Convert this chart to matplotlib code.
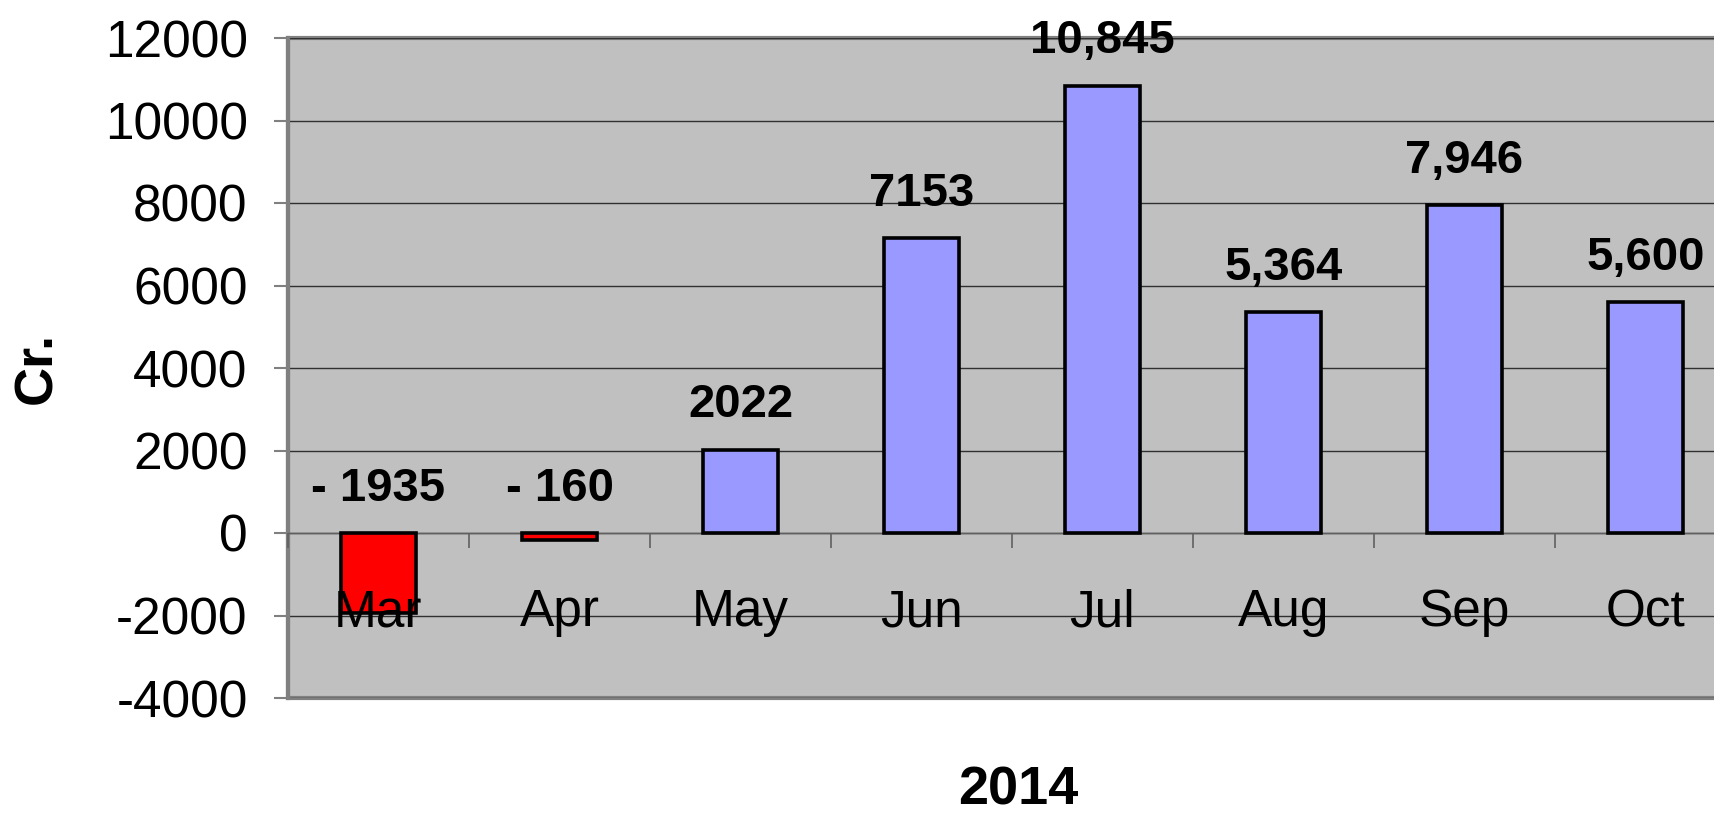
import matplotlib
matplotlib.use("Agg")
import matplotlib.pyplot as plt
import numpy as np

# monthly values, 2014 (Cr.)
months = ["Mar", "Apr", "May", "Jun", "Jul", "Aug", "Sep", "Oct"]
values = [-1935, -160, 2022, 7153, 10845, 5364, 7946, 5600]
value_labels = ["- 1935", "- 160", "2022", "7153", "10,845", "5,364", "7,946", "5,600"]
yticks = [-4000, -2000, 0, 2000, 4000, 6000, 8000, 10000, 12000]
ytick_labels = ["-4000", "-2000", "0", "2000", "4000", "6000", "8000", "10000", "12000"]

plt.rcParams["font.family"] = ["Liberation Sans", "DejaVu Sans"]
plt.rcParams["axes.unicode_minus"] = False

fig = plt.figure(figsize=(17.15, 8.17), dpi=100, facecolor="w")
ax = fig.add_axes([288 / 1715, 1 - 698 / 817, 1448 / 1715, 660 / 817])

ax.set_facecolor("#C0C0C0")
ax.patch.set_edgecolor("#808080")
ax.patch.set_linewidth(3)

x = np.arange(len(months))
colors = ["#FF0000" if v < 0 else "#9999FF" for v in values]
ax.bar(x, values, width=0.41, color=colors, edgecolor="black", linewidth=2.6, zorder=3)

for xi, v, lab in zip(x, values, value_labels):
    ax.annotate(lab, (xi, max(v, 0)), xytext=(0, 16), textcoords="offset points",
                ha="center", va="bottom", fontsize=34, fontweight="bold", zorder=4)

ax.set_xlim(-0.5, len(months) - 0.5)
ax.set_ylim(-4000, 12000)
ax.set_yticks(yticks, ytick_labels)
ax.grid(axis="y", color="#303030", linewidth=1, zorder=1)
ax.set_axisbelow(True)

# category axis crosses at zero
ax.spines["bottom"].set_position(("data", 0))
ax.spines["bottom"].set_color("#606060")
ax.spines["bottom"].set_linewidth(1)
ax.spines["top"].set_visible(False)
ax.spines["right"].set_visible(False)
ax.spines["left"].set_color("#808080")
ax.spines["left"].set_linewidth(3)

ax.set_xticks(x, months)
ax.set_xticks(np.arange(-0.5, len(months) - 0.5, 1.0), minor=True)
ax.tick_params(axis="x", which="major", length=0, pad=67, labelsize=37)
ax.tick_params(axis="x", which="minor", length=11, width=1.2, color="#606060")
ax.tick_params(axis="y", length=10, width=1.5, color="#808080", pad=19, labelsize=37)
for t in ax.get_xticklabels():
    t.set_va("baseline")
ax.xaxis.set_zorder(5)  # month names drawn over the bars

ax.set_xlabel("2014", fontsize=39, fontweight="bold")
ax.xaxis.set_label_coords(0.504, -0.103)
ax.set_ylabel("Cr.", fontsize=39, fontweight="bold")
ax.yaxis.set_label_coords(-0.156, 0.5)

fig.savefig("out.png", dpi=100)
